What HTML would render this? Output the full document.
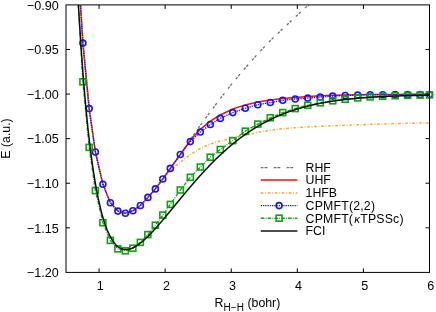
<!DOCTYPE html>
<html><head><meta charset="utf-8"><title>H2 dissociation</title>
<style>html,body{margin:0;padding:0;background:#fff;}svg{display:block;}</style></head>
<body>
<svg width="436" height="312" viewBox="0 0 436 312">
<defs><clipPath id="c"><rect x="66.0" y="4.9" width="363.5" height="267.5"/></clipPath></defs>
<rect width="436" height="312" fill="#fff"/>
<g clip-path="url(#c)" fill="none" stroke-linejoin="round">
<path d="M190.32,139.80 L200.31,125.30 L210.30,111.80 L220.30,98.60 L232.78,82.60 L245.27,68.00 L257.76,53.80 L270.25,40.70 L282.74,28.80 L295.23,17.00 L307.72,5.60 L320.21,-5.00 L332.70,-16.00 L345.19,-27.00 L357.68,-37.00 L370.17,-47.00 L382.66,-56.00 L395.15,-65.00 L407.64,-74.00 L420.13,-82.00 L429.50,-88.00" stroke="#6e6e6e" stroke-width="1.3" stroke-dasharray="2.6 1.3 2.6 5.9" stroke-dashoffset="-1.5"/>
<path d="M76.67,-55.00 L82.91,43.10 L89.16,108.60 L95.40,152.00 L102.90,184.30 L110.39,202.70 L117.88,211.10 L125.38,213.30 L132.87,210.80 L140.36,205.50 L147.86,197.40 L155.35,188.90 L162.84,179.00 L170.34,168.40 L180.33,154.50 L190.32,140.30 L200.31,129.30 L210.30,121.20 L220.30,115.00 L232.78,109.00 L245.27,104.90 L257.76,101.90 L270.25,99.90 L282.74,98.50 L295.23,97.50 L307.72,96.50 L320.21,95.80 L332.70,95.30 L345.19,95.00 L357.68,94.70 L370.17,94.50 L382.66,94.40 L395.15,94.40 L407.64,94.30 L420.13,94.30 L429.50,94.30" stroke="#f01010" stroke-width="1.5"/>
<path d="M76.92,-55.00 L83.16,43.10 L89.41,108.60 L95.65,152.00 L103.15,184.30 L110.64,202.70 L118.13,211.10 L125.63,213.30 L133.12,210.80 L140.61,205.50 L148.11,197.40 L155.60,188.90 L163.09,179.00 L170.34,170.40 L180.33,162.10 L190.32,154.60 L200.31,148.40 L210.30,144.00 L220.30,140.90 L232.78,138.00 L245.27,135.20 L257.76,132.30 L270.25,130.10 L282.74,128.70 L295.23,127.70 L307.72,126.90 L320.21,126.30 L332.70,125.80 L345.19,125.30 L357.68,124.80 L370.17,124.40 L382.66,124.00 L395.15,123.60 L407.64,123.30 L420.13,123.10 L429.50,123.00" stroke="#ffa030" stroke-width="1.45" stroke-dasharray="2.6 1.8 0.8 1.8"/>
<path d="M76.67,-55.00 L82.91,43.10 L89.16,108.60 L95.40,152.00 L102.90,184.30 L110.39,202.70 L117.88,211.10 L125.38,213.30 L132.87,210.80 L140.36,205.50 L147.86,197.40 L155.35,188.90 L162.84,179.00 L170.34,168.40 L180.33,154.50 L190.32,141.60 L200.31,132.00 L210.30,124.50 L220.30,118.40 L232.78,112.60 L245.27,108.30 L257.76,104.70 L270.25,102.50 L282.74,100.35 L295.23,99.00 L307.72,98.10 L320.21,97.00 L332.70,96.10 L345.19,95.50 L357.68,95.10 L370.17,94.80 L382.66,94.70 L395.15,94.60 L407.64,94.50 L420.13,94.50 L429.50,94.50" stroke="#1414ff" stroke-width="1.35" stroke-dasharray="1.25 1.0"/>
</g>
<g fill="none" stroke="#1414ff" stroke-width="1.6">
<circle cx="82.9" cy="43.1" r="3.0"/>
<circle cx="89.2" cy="108.6" r="3.0"/>
<circle cx="95.4" cy="152.0" r="3.0"/>
<circle cx="102.9" cy="184.3" r="3.0"/>
<circle cx="110.4" cy="202.7" r="3.0"/>
<circle cx="117.9" cy="211.1" r="3.0"/>
<circle cx="125.4" cy="213.3" r="3.0"/>
<circle cx="132.9" cy="210.8" r="3.0"/>
<circle cx="140.4" cy="205.5" r="3.0"/>
<circle cx="147.9" cy="197.4" r="3.0"/>
<circle cx="155.4" cy="188.9" r="3.0"/>
<circle cx="162.8" cy="179.0" r="3.0"/>
<circle cx="170.3" cy="168.4" r="3.0"/>
<circle cx="180.3" cy="154.5" r="3.0"/>
<circle cx="190.3" cy="141.6" r="3.0"/>
<circle cx="200.3" cy="132.0" r="3.0"/>
<circle cx="210.3" cy="124.5" r="3.0"/>
<circle cx="220.3" cy="118.4" r="3.0"/>
<circle cx="232.8" cy="112.6" r="3.0"/>
<circle cx="245.3" cy="108.3" r="3.0"/>
<circle cx="257.8" cy="104.7" r="3.0"/>
<circle cx="270.3" cy="102.5" r="3.0"/>
<circle cx="282.7" cy="100.3" r="3.0"/>
<circle cx="295.2" cy="99.0" r="3.0"/>
<circle cx="307.7" cy="98.1" r="3.0"/>
<circle cx="320.2" cy="97.0" r="3.0"/>
<circle cx="332.7" cy="96.1" r="3.0"/>
<circle cx="345.2" cy="95.5" r="3.0"/>
<circle cx="357.7" cy="95.1" r="3.0"/>
<circle cx="370.2" cy="94.8" r="3.0"/>
<circle cx="382.7" cy="94.7" r="3.0"/>
<circle cx="395.1" cy="94.6" r="3.0"/>
<circle cx="407.6" cy="94.5" r="3.0"/>
<circle cx="420.1" cy="94.5" r="3.0"/>
<circle cx="429.5" cy="94.5" r="3.0"/>
</g>
<g clip-path="url(#c)" fill="none" stroke-linejoin="round">
<path d="M76.67,-22.00 L82.91,81.80 L89.16,147.40 L95.40,190.60 L102.90,222.70 L110.39,240.40 L117.88,248.90 L125.38,250.80 L132.87,248.20 L140.36,242.40 L147.86,234.60 L155.35,225.20 L162.84,215.10 L170.34,204.40 L180.33,190.00 L190.32,177.30 L200.31,167.00 L210.30,157.20 L220.30,149.50 L232.78,140.60 L245.27,131.20 L257.76,124.10 L270.25,117.80 L282.74,112.60 L295.23,108.60 L307.72,105.30 L320.21,102.80 L332.70,100.80 L345.19,99.20 L357.68,97.90 L370.17,96.90 L382.66,96.30 L395.15,95.70 L407.64,95.30 L420.13,95.10 L429.50,94.90" stroke="#14a014" stroke-width="1.35" stroke-dasharray="3.6 1.2 0.8 1.2"/>
</g>
<g fill="none" stroke="#14a014" stroke-width="1.6">
<rect x="79.91" y="78.80" width="6.0" height="6.0"/>
<rect x="86.16" y="144.40" width="6.0" height="6.0"/>
<rect x="92.40" y="187.60" width="6.0" height="6.0"/>
<rect x="99.90" y="219.70" width="6.0" height="6.0"/>
<rect x="107.39" y="237.40" width="6.0" height="6.0"/>
<rect x="114.88" y="245.90" width="6.0" height="6.0"/>
<rect x="122.38" y="247.80" width="6.0" height="6.0"/>
<rect x="129.87" y="245.20" width="6.0" height="6.0"/>
<rect x="137.36" y="239.40" width="6.0" height="6.0"/>
<rect x="144.86" y="231.60" width="6.0" height="6.0"/>
<rect x="152.35" y="222.20" width="6.0" height="6.0"/>
<rect x="159.84" y="212.10" width="6.0" height="6.0"/>
<rect x="167.34" y="201.40" width="6.0" height="6.0"/>
<rect x="177.33" y="187.00" width="6.0" height="6.0"/>
<rect x="187.32" y="174.30" width="6.0" height="6.0"/>
<rect x="197.31" y="164.00" width="6.0" height="6.0"/>
<rect x="207.30" y="154.20" width="6.0" height="6.0"/>
<rect x="217.30" y="146.50" width="6.0" height="6.0"/>
<rect x="229.78" y="137.60" width="6.0" height="6.0"/>
<rect x="242.27" y="128.20" width="6.0" height="6.0"/>
<rect x="254.76" y="121.10" width="6.0" height="6.0"/>
<rect x="267.25" y="114.80" width="6.0" height="6.0"/>
<rect x="279.74" y="109.60" width="6.0" height="6.0"/>
<rect x="292.23" y="105.60" width="6.0" height="6.0"/>
<rect x="304.72" y="102.30" width="6.0" height="6.0"/>
<rect x="317.21" y="99.80" width="6.0" height="6.0"/>
<rect x="329.70" y="97.80" width="6.0" height="6.0"/>
<rect x="342.19" y="96.20" width="6.0" height="6.0"/>
<rect x="354.68" y="94.90" width="6.0" height="6.0"/>
<rect x="367.17" y="93.90" width="6.0" height="6.0"/>
<rect x="379.66" y="93.30" width="6.0" height="6.0"/>
<rect x="392.15" y="92.70" width="6.0" height="6.0"/>
<rect x="404.64" y="92.30" width="6.0" height="6.0"/>
<rect x="417.13" y="92.10" width="6.0" height="6.0"/>
<rect x="426.50" y="91.90" width="6.0" height="6.0"/>
</g>
<g clip-path="url(#c)" fill="none" stroke-linejoin="round">
<path d="M73.00,-108.75 L73.50,-96.45 L74.00,-84.56 L74.50,-73.06 L75.00,-61.94 L75.50,-51.20 L76.00,-40.81 L76.50,-30.77 L77.00,-21.06 L77.50,-11.67 L78.00,-2.60 L78.50,6.18 L79.00,14.67 L79.50,22.89 L80.00,30.85 L80.50,38.55 L81.00,46.00 L81.50,53.21 L82.00,60.19 L82.50,66.95 L83.00,73.49 L83.50,79.83 L84.00,85.96 L84.50,91.90 L85.00,97.65 L85.50,103.22 L86.00,108.62 L86.50,113.84 L87.00,118.90 L87.50,123.80 L88.00,128.55 L88.50,133.14 L89.00,137.59 L89.50,141.90 L90.00,146.06 L90.50,150.10 L91.00,154.00 L91.50,157.78 L92.00,161.44 L92.50,164.99 L93.00,168.42 L93.50,171.75 L94.00,174.96 L94.50,178.08 L95.00,181.09 L95.50,184.01 L96.00,186.83 L96.50,189.55 L97.00,192.19 L97.50,194.74 L98.00,197.21 L98.50,199.59 L99.00,201.90 L99.50,204.12 L100.00,206.28 L100.50,208.36 L101.00,210.37 L101.50,212.32 L102.00,214.19 L102.50,216.00 L103.00,217.75 L103.50,219.44 L104.00,221.07 L104.50,222.64 L105.00,224.16 L105.50,225.62 L106.00,226.98 L106.50,228.26 L107.00,229.50 L107.50,230.69 L108.00,231.83 L108.50,232.93 L109.00,233.99 L109.50,235.01 L110.00,235.99 L110.50,236.93 L111.00,237.83 L111.50,238.70 L112.00,239.53 L112.50,240.33 L113.00,241.09 L113.50,241.81 L114.00,242.50 L114.50,243.15 L115.00,243.77 L115.50,244.36 L116.00,244.91 L116.50,245.42 L117.00,245.90 L117.50,246.35 L118.00,246.76 L118.50,247.14 L119.00,247.49 L119.50,247.81 L120.00,248.11 L120.50,248.37 L121.00,248.60 L121.50,248.81 L122.00,248.99 L122.50,249.14 L123.00,249.27 L123.50,249.38 L124.00,249.46 L124.50,249.52 L125.00,249.56 L125.50,249.58 L126.00,249.58 L126.50,249.56 L127.00,249.53 L127.50,249.47 L128.00,249.40 L128.50,249.30 L129.00,249.20 L129.50,249.07 L130.00,248.93 L130.50,248.78 L131.00,248.61 L131.50,248.42 L132.00,248.22 L132.50,248.01 L133.00,247.78 L133.50,247.55 L134.00,247.29 L134.50,247.03 L135.00,246.76 L135.50,246.47 L136.00,246.17 L136.50,245.86 L137.00,245.54 L137.50,245.21 L138.00,244.87 L138.50,244.52 L139.00,244.16 L139.50,243.80 L140.00,243.42 L140.50,243.03 L141.00,242.64 L141.50,242.24 L142.00,241.83 L142.50,241.41 L143.00,240.98 L143.50,240.55 L144.00,240.11 L144.50,239.66 L145.00,239.20 L145.50,238.74 L146.00,238.28 L146.50,237.80 L147.00,237.32 L147.50,236.84 L148.00,236.35 L148.50,235.85 L149.00,235.35 L149.50,234.85 L150.00,234.34 L150.50,233.82 L151.00,233.30 L151.50,232.77 L152.00,232.24 L152.50,231.71 L153.00,231.17 L153.50,230.63 L154.00,230.09 L154.50,229.54 L155.00,228.99 L155.50,228.43 L156.00,227.87 L156.50,227.31 L157.00,226.75 L157.50,226.18 L158.00,225.61 L158.50,225.03 L159.00,224.46 L159.50,223.88 L160.00,223.30 L160.50,222.72 L161.00,222.13 L161.50,221.55 L162.00,220.96 L162.50,220.37 L163.00,219.78 L163.50,219.18 L164.00,218.59 L164.50,217.99 L165.00,217.39 L165.50,216.80 L166.00,216.20 L166.50,215.59 L167.00,214.99 L167.50,214.39 L168.00,213.79 L168.50,213.18 L169.00,212.58 L169.50,211.97 L170.00,211.36 L170.50,210.76 L171.00,210.15 L171.50,209.54 L172.00,208.93 L172.50,208.32 L173.00,207.71 L173.50,207.10 L174.00,206.49 L174.50,205.88 L175.00,205.27 L175.50,204.66 L176.00,204.06 L176.50,203.45 L177.00,202.84 L177.50,202.23 L178.00,201.62 L178.50,201.01 L179.00,200.40 L179.50,199.80 L180.00,199.19 L180.50,198.59 L181.00,197.98 L181.50,197.38 L182.00,196.77 L182.50,196.17 L183.00,195.57 L183.50,194.97 L184.00,194.37 L184.50,193.77 L185.00,193.17 L185.50,192.57 L186.00,191.97 L186.50,191.38 L187.00,190.78 L187.50,190.19 L188.00,189.60 L188.50,189.01 L189.00,188.42 L189.50,187.83 L190.00,187.24 L190.50,186.66 L191.00,186.07 L191.50,185.49 L192.00,184.91 L192.50,184.33 L193.00,183.75 L193.50,183.17 L194.00,182.59 L194.50,182.02 L195.00,181.45 L195.50,180.88 L196.00,180.31 L196.50,179.74 L197.00,179.17 L197.50,178.61 L198.00,178.05 L198.50,177.48 L199.00,176.92 L199.50,176.37 L200.00,175.81 L200.50,175.26 L201.00,174.71 L201.50,174.16 L202.00,173.61 L202.50,173.06 L203.00,172.52 L203.50,171.97 L204.00,171.43 L204.50,170.89 L205.00,170.36 L205.50,169.82 L206.00,169.29 L206.50,168.76 L207.00,168.23 L207.50,167.70 L208.00,167.18 L208.50,166.66 L209.00,166.13 L209.50,165.62 L210.00,165.10 L210.50,164.59 L211.00,164.07 L211.50,163.56 L212.00,163.06 L212.50,162.55 L213.00,162.05 L213.50,161.55 L214.00,161.05 L214.50,160.55 L215.00,160.05 L215.50,159.56 L216.00,159.07 L216.50,158.58 L217.00,158.10 L217.50,157.61 L218.00,157.13 L218.50,156.65 L219.00,156.18 L219.50,155.70 L220.00,155.23 L220.50,154.76 L221.00,154.29 L221.50,153.83 L222.00,153.36 L222.50,152.90 L223.00,152.45 L223.50,151.99 L224.00,151.54 L224.50,151.08 L225.00,150.64 L225.50,150.19 L226.00,149.74 L226.50,149.30 L227.00,148.86 L227.50,148.43 L228.00,147.99 L228.50,147.56 L229.00,147.13 L229.50,146.70 L230.00,146.27 L230.50,145.85 L231.00,145.43 L231.50,145.01 L232.00,144.59 L232.50,144.18 L233.00,143.77 L233.50,143.36 L234.00,142.95 L234.50,142.55 L235.00,142.15 L235.50,141.75 L236.00,141.35 L236.50,140.96 L237.00,140.56 L237.50,140.17 L238.00,139.79 L238.50,139.40 L239.00,139.02 L239.50,138.64 L240.00,138.26 L240.50,137.88 L241.00,137.51 L241.50,137.14 L242.00,136.77 L242.50,136.40 L243.00,136.04 L243.50,135.68 L244.00,135.32 L244.50,134.96 L245.00,134.61 L245.50,134.25 L246.00,133.90 L246.50,133.56 L247.00,133.21 L247.50,132.87 L248.00,132.53 L248.50,132.19 L249.00,131.85 L249.50,131.52 L250.00,131.19 L250.50,130.86 L251.00,130.53 L251.50,130.20 L252.00,129.88 L252.50,129.56 L253.00,129.24 L253.50,128.93 L254.00,128.61 L254.50,128.30 L255.00,127.99 L255.50,127.69 L256.00,127.38 L256.50,127.08 L257.00,126.78 L257.50,126.48 L258.00,126.18 L258.50,125.89 L259.00,125.60 L259.50,125.31 L260.00,125.02 L260.50,124.74 L261.00,124.45 L261.50,124.17 L262.00,123.89 L262.50,123.62 L263.00,123.34 L263.50,123.07 L264.00,122.80 L264.50,122.53 L265.00,122.26 L265.50,122.00 L266.00,121.74 L266.50,121.48 L267.00,121.22 L267.50,120.96 L268.00,120.71 L268.50,120.46 L269.00,120.21 L269.50,119.96 L270.00,119.71 L270.50,119.47 L271.00,119.23 L271.50,118.98 L272.00,118.75 L272.50,118.51 L273.00,118.28 L273.50,118.04 L274.00,117.81 L274.50,117.58 L275.00,117.36 L275.50,117.13 L276.00,116.91 L276.50,116.69 L277.00,116.47 L277.50,116.25 L278.00,116.03 L278.50,115.82 L279.00,115.61 L279.50,115.40 L280.00,115.19 L280.50,114.98 L281.00,114.78 L281.50,114.57 L282.00,114.37 L282.50,114.17 L283.00,113.97 L283.50,113.78 L284.00,113.58 L284.50,113.39 L285.00,113.20 L285.50,113.01 L286.00,112.82 L286.50,112.63 L287.00,112.45 L287.50,112.26 L288.00,112.08 L288.50,111.90 L289.00,111.72 L289.50,111.55 L290.00,111.37 L290.50,111.20 L291.00,111.03 L291.50,110.86 L292.00,110.69 L292.50,110.52 L293.00,110.35 L293.50,110.19 L294.00,110.03 L294.50,109.86 L295.00,109.70 L295.50,109.55 L296.00,109.39 L296.50,109.23 L297.00,109.08 L297.50,108.93 L298.00,108.77 L298.50,108.62 L299.00,108.48 L299.50,108.33 L300.00,108.18 L300.50,108.04 L301.00,107.89 L301.50,107.75 L302.00,107.61 L302.50,107.47 L303.00,107.34 L303.50,107.20 L304.00,107.06 L304.50,106.93 L305.00,106.80 L305.50,106.67 L306.00,106.54 L306.50,106.41 L307.00,106.28 L307.50,106.15 L308.00,106.03 L308.50,105.90 L309.00,105.78 L309.50,105.66 L310.00,105.54 L310.50,105.42 L311.00,105.30 L311.50,105.19 L312.00,105.07 L312.50,104.96 L313.00,104.84 L313.50,104.73 L314.00,104.62 L314.50,104.51 L315.00,104.40 L315.50,104.29 L316.00,104.19 L316.50,104.08 L317.00,103.97 L317.50,103.87 L318.00,103.77 L318.50,103.67 L319.00,103.57 L319.50,103.47 L320.00,103.37 L320.50,103.27 L321.00,103.17 L321.50,103.08 L322.00,102.98 L322.50,102.89 L323.00,102.80 L323.50,102.71 L324.00,102.62 L324.50,102.53 L325.00,102.44 L325.50,102.35 L326.00,102.26 L326.50,102.17 L327.00,102.09 L327.50,102.00 L328.00,101.92 L328.50,101.84 L329.00,101.76 L329.50,101.68 L330.00,101.60 L330.50,101.52 L331.00,101.44 L331.50,101.36 L332.00,101.28 L332.50,101.21 L333.00,101.13 L333.50,101.06 L334.00,100.98 L334.50,100.91 L335.00,100.84 L335.50,100.77 L336.00,100.70 L336.50,100.63 L337.00,100.56 L337.50,100.49 L338.00,100.42 L338.50,100.36 L339.00,100.29 L339.50,100.23 L340.00,100.16 L340.50,100.10 L341.00,100.03 L341.50,99.97 L342.00,99.91 L342.50,99.85 L343.00,99.79 L343.50,99.73 L344.00,99.67 L344.50,99.61 L345.00,99.55 L345.50,99.50 L346.00,99.44 L346.50,99.39 L347.00,99.33 L347.50,99.27 L348.00,99.22 L348.50,99.17 L349.00,99.11 L349.50,99.06 L350.00,99.01 L350.50,98.96 L351.00,98.91 L351.50,98.86 L352.00,98.81 L352.50,98.76 L353.00,98.71 L353.50,98.66 L354.00,98.61 L354.50,98.56 L355.00,98.52 L355.50,98.47 L356.00,98.42 L356.50,98.38 L357.00,98.33 L357.50,98.29 L358.00,98.24 L358.50,98.20 L359.00,98.16 L359.50,98.11 L360.00,98.07 L360.50,98.03 L361.00,97.99 L361.50,97.95 L362.00,97.91 L362.50,97.87 L363.00,97.83 L363.50,97.79 L364.00,97.75 L364.50,97.71 L365.00,97.68 L365.50,97.64 L366.00,97.60 L366.50,97.57 L367.00,97.53 L367.50,97.49 L368.00,97.46 L368.50,97.42 L369.00,97.39 L369.50,97.36 L370.00,97.32 L370.50,97.29 L371.00,97.26 L371.50,97.23 L372.00,97.19 L372.50,97.16 L373.00,97.13 L373.50,97.10 L374.00,97.07 L374.50,97.04 L375.00,97.01 L375.50,96.98 L376.00,96.95 L376.50,96.92 L377.00,96.89 L377.50,96.87 L378.00,96.84 L378.50,96.81 L379.00,96.78 L379.50,96.76 L380.00,96.73 L380.50,96.70 L381.00,96.68 L381.50,96.65 L382.00,96.63 L382.50,96.60 L383.00,96.58 L383.50,96.55 L384.00,96.53 L384.50,96.50 L385.00,96.48 L385.50,96.46 L386.00,96.43 L386.50,96.41 L387.00,96.39 L387.50,96.37 L388.00,96.34 L388.50,96.32 L389.00,96.30 L389.50,96.28 L390.00,96.26 L390.50,96.24 L391.00,96.22 L391.50,96.20 L392.00,96.18 L392.50,96.16 L393.00,96.14 L393.50,96.12 L394.00,96.10 L394.50,96.08 L395.00,96.06 L395.50,96.04 L396.00,96.02 L396.50,96.00 L397.00,95.99 L397.50,95.97 L398.00,95.95 L398.50,95.93 L399.00,95.92 L399.50,95.90 L400.00,95.88 L400.50,95.86 L401.00,95.85 L401.50,95.83 L402.00,95.82 L402.50,95.80 L403.00,95.78 L403.50,95.77 L404.00,95.75 L404.50,95.74 L405.00,95.72 L405.50,95.71 L406.00,95.69 L406.50,95.68 L407.00,95.67 L407.50,95.65 L408.00,95.64 L408.50,95.62 L409.00,95.61 L409.50,95.60 L410.00,95.58 L410.50,95.57 L411.00,95.56 L411.50,95.55 L412.00,95.53 L412.50,95.52 L413.00,95.51 L413.50,95.50 L414.00,95.48 L414.50,95.47 L415.00,95.46 L415.50,95.45 L416.00,95.44 L416.50,95.42 L417.00,95.41 L417.50,95.40 L418.00,95.39 L418.50,95.38 L419.00,95.37 L419.50,95.36 L420.00,95.35 L420.50,95.34 L421.00,95.33 L421.50,95.32 L422.00,95.31 L422.50,95.30 L423.00,95.29 L423.50,95.28 L424.00,95.27 L424.50,95.26 L425.00,95.25 L425.50,95.24 L426.00,95.23 L426.50,95.22 L427.00,95.21 L427.50,95.20 L428.00,95.19 L428.50,95.19 L429.00,95.18 L429.50,95.17 L430.00,95.16" stroke="#101010" stroke-width="1.5"/>
</g>
<g stroke="#000" stroke-width="1" fill="none">
<rect x="66.0" y="4.9" width="363.5" height="267.5"/>
<path d="M99.05,272.4 v-4.0 M99.05,4.9 v4.0"/>
<path d="M165.14,272.4 v-4.0 M165.14,4.9 v4.0"/>
<path d="M231.23,272.4 v-4.0 M231.23,4.9 v4.0"/>
<path d="M297.32,272.4 v-4.0 M297.32,4.9 v4.0"/>
<path d="M363.41,272.4 v-4.0 M363.41,4.9 v4.0"/>
<path d="M66.0,49.48 h4.0 M429.5,49.48 h-4.0"/>
<path d="M66.0,94.07 h4.0 M429.5,94.07 h-4.0"/>
<path d="M66.0,138.65 h4.0 M429.5,138.65 h-4.0"/>
<path d="M66.0,183.23 h4.0 M429.5,183.23 h-4.0"/>
<path d="M66.0,227.82 h4.0 M429.5,227.82 h-4.0"/>
</g>
<g font-family="Liberation Sans, sans-serif" font-size="12.3" fill="#000" style="filter:grayscale(1)">
<text x="100.35" y="289.8" font-size="12.6" text-anchor="middle">1</text>
<text x="166.44" y="289.8" font-size="12.6" text-anchor="middle">2</text>
<text x="232.53" y="289.8" font-size="12.6" text-anchor="middle">3</text>
<text x="298.62" y="289.8" font-size="12.6" text-anchor="middle">4</text>
<text x="364.71" y="289.8" font-size="12.6" text-anchor="middle">5</text>
<text x="430.80" y="289.8" font-size="12.6" text-anchor="middle">6</text>
<text x="58.7" y="9.60" font-size="12.6" text-anchor="end">−0.90</text>
<text x="58.7" y="54.18" font-size="12.6" text-anchor="end">−0.95</text>
<text x="58.7" y="98.77" font-size="12.6" text-anchor="end">−1.00</text>
<text x="58.7" y="143.35" font-size="12.6" text-anchor="end">−1.05</text>
<text x="58.7" y="187.93" font-size="12.6" text-anchor="end">−1.10</text>
<text x="58.7" y="232.52" font-size="12.6" text-anchor="end">−1.15</text>
<text x="58.7" y="277.10" font-size="12.6" text-anchor="end">−1.20</text>
<text transform="translate(10.4,138.5) rotate(-90)" text-anchor="middle">E (a.u.)</text>
<text x="214.6" y="307.2">R</text><text x="223.6" y="310.8" font-size="10">H−H</text><text x="247.5" y="307.2">(bohr)</text>
<text x="305.6" y="171.7">RHF</text>
<text x="305.6" y="184.4">UHF</text>
<text x="305.6" y="197.2">1HFB</text>
<text x="305.6" y="210.0" textLength="69.4" lengthAdjust="spacing">CPMFT(2,2)</text>
<text x="305.6" y="222.7" textLength="97.9" lengthAdjust="spacing">CPMFT(<tspan font-style="italic" font-size="11.5" dx="1.2">κ</tspan>TPSSc)</text>
<text x="305.6" y="235.4">FCI</text>
</g>
<g fill="none">
<path d="M260.8,167.6 H297.4" stroke="#6e6e6e" stroke-width="1.3" stroke-dasharray="2.7 1.0 2.9 6.3"/>
<path d="M260.8,180.0 H297.4" stroke="#f01010" stroke-width="1.5"/>
<path d="M260.8,192.9 H297.4" stroke="#ffa030" stroke-width="1.45" stroke-dasharray="2.6 1.8 0.8 1.8"/>
<path d="M260.8,205.6 H297.4" stroke="#1414ff" stroke-width="1.35" stroke-dasharray="1.25 1.0"/>
<circle cx="279.1" cy="205.6" r="3.0" stroke="#1414ff" stroke-width="1.6"/>
<path d="M260.8,218.2 H297.4" stroke="#14a014" stroke-width="1.35" stroke-dasharray="3.6 1.2 0.8 1.2"/>
<rect x="276.1" y="215.2" width="6.0" height="6.0" stroke="#14a014" stroke-width="1.6"/>
<path d="M260.8,231.0 H297.4" stroke="#101010" stroke-width="1.5"/>
</g>
</svg>
</body></html>
